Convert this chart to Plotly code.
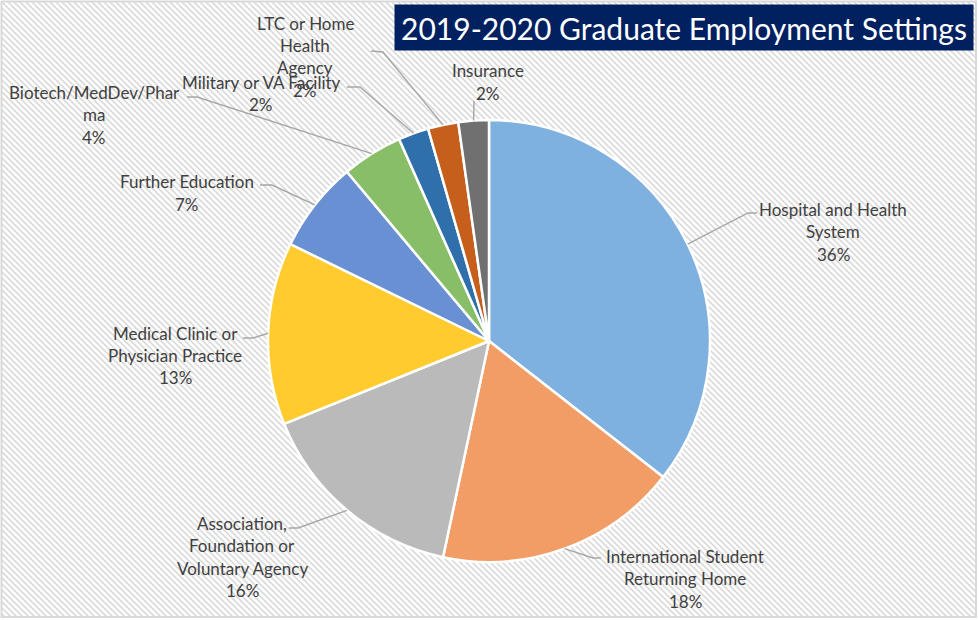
import base64
import math

import plotly.graph_objects as go

W, H = 979, 620

# graduates per employment setting (45 total), clockwise from 12 o'clock
labels = [
    "Hospital and Health System",
    "International Student Returning Home",
    "Association, Foundation or Voluntary Agency",
    "Medical Clinic or Physician Practice",
    "Further Education",
    "Biotech/MedDev/Pharma",
    "Military or VA Facility",
    "LTC or Home Health Agency",
    "Insurance",
]
counts = [16, 8, 7, 6, 3, 2, 1, 1, 1]

# label text as it wraps in the original
label_lines = [
    ["Hospital and Health", "System"],
    ["International Student", "Returning Home"],
    ["Association,", "Foundation or", "Voluntary Agency"],
    ["Medical Clinic or", "Physician Practice"],
    ["Further Education"],
    ["Biotech/MedDev/Phar", "ma"],
    ["Military or VA Facility"],
    ["LTC or Home", "Health", "Agency"],
    ["Insurance"],
]

colors = ["#7fb1e0", "#f29d66", "#bababa", "#ffcb2f", "#6890d2",
          "#89be68", "#2f6fab", "#c75f1c", "#707070"]

# layout (pixels): pie centre/radius, label centres, leader elbows and ends
CX, CY, R = 489, 341, 221
label_xy = [(833, 209), (685, 556), (242, 523), (175, 333), (187, 182),
            (94, 92), (261, 82), (305, 23), (488, 71)]
elbows = [(748, 213), (593, 558), (298, 528), (253, 338), (272, 185),
          (197, 97), (360, 87), (383, 52), (474, 101)]
ends = [(757, 213), (601, 558), (289, 528), (243, 338), (260, 185),
        (187, 97), (347, 87), (371, 51), (474, 101)]
LINE_H = 22.5


def px(x, y):
    return x / W, 1 - y / H


total = sum(counts)
pcts = [f"{round(c / total * 100)}%" for c in counts]

fig = go.Figure()
fig.add_trace(
    go.Pie(
        labels=labels,
        values=counts,
        sort=False,
        direction="clockwise",
        rotation=0,
        textinfo="none",
        hoverinfo="label+percent",
        marker=dict(colors=colors, line=dict(color="white", width=2.5)),
        domain=dict(x=[(CX - R) / W, (CX + R) / W],
                    y=[1 - (CY + R) / H, 1 - (CY - R) / H]),
        showlegend=False,
    )
)

annotations = []
shapes = []
cum = 0
for i, c in enumerate(counts):
    mid = (cum + c / 2) / total * 2 * math.pi
    cum += c
    ax, ay = CX + R * math.sin(mid), CY - R * math.cos(mid)
    p0, p1, p2 = px(ax, ay), px(*elbows[i]), px(*ends[i])
    shapes.append(dict(
        type="path", xref="paper", yref="paper",
        path=f"M{p0[0]},{p0[1]} L{p1[0]},{p1[1]} L{p2[0]},{p2[1]}",
        line=dict(color="#a6a6a6", width=1.4),
    ))
    lx, ly = label_xy[i]
    for j, txt in enumerate(label_lines[i] + [pcts[i]]):
        x, y = px(lx, ly + j * LINE_H)
        annotations.append(dict(
            x=x, y=y, xref="paper", yref="paper", text=txt, showarrow=False,
            xanchor="center", yanchor="middle",
            font=dict(family="Lato", size=17, color="#404040"),
        ))

# title box
tx, ty = px(684, 27.5)
annotations.append(dict(
    x=tx, y=ty, xref="paper", yref="paper",
    text="2019-2020 Graduate Employment Settings", showarrow=False,
    xanchor="center", yanchor="middle", width=576, height=43,
    bgcolor="#002060", font=dict(family="Lato", size=30, color="white"),
))

# outer frame
shapes.append(dict(type="rect", xref="paper", yref="paper",
                   x0=1.5 / W, x1=976 / W, y0=1 - 617 / H, y1=1 - 1.5 / H,
                   line=dict(color="#d9d9d9", width=2)))

# diagonal hatch background
svg = (
    f'<svg xmlns="http://www.w3.org/2000/svg" width="{W}" height="{H}">'
    '<defs><pattern id="p" width="6" height="6" patternUnits="userSpaceOnUse">'
    '<path d="M-1,-1 L7,7 M-1,5 L1,7 M5,-1 L7,1" stroke="#dadada" stroke-width="1.6"/>'
    '</pattern></defs><rect x="2" y="2" width="974" height="615" fill="url(#p)"/></svg>'
)
bg = "data:image/svg+xml;base64," + base64.b64encode(svg.encode()).decode()

fig.update_layout(
    width=W,
    height=H,
    margin=dict(l=0, r=0, t=0, b=0),
    paper_bgcolor="white",
    annotations=annotations,
    shapes=shapes,
    images=[dict(source=bg, xref="paper", yref="paper", x=0, y=1,
                 sizex=1, sizey=1, sizing="stretch", layer="below",
                 xanchor="left", yanchor="top")],
)

fig.write_html("out.html", config={"displayModeBar": False},
               post_script="document.body.style.margin='0';")
